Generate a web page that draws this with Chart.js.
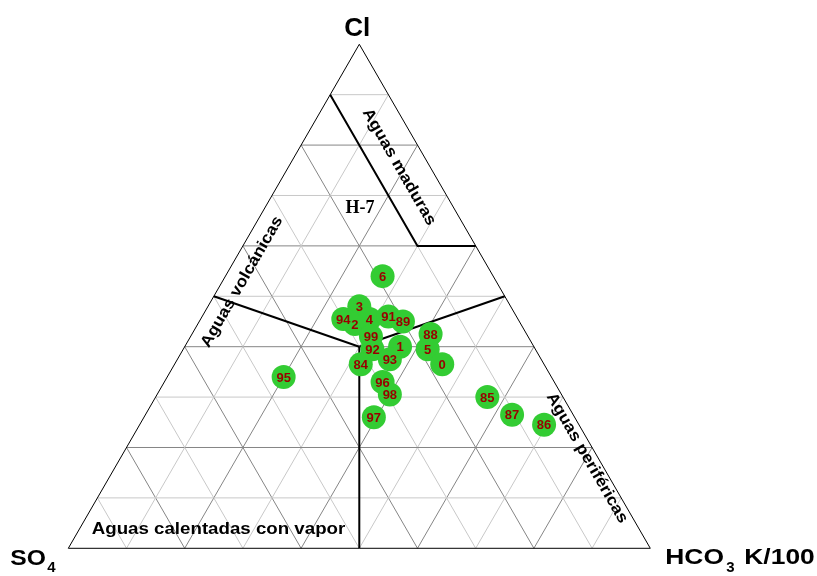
<!DOCTYPE html>
<html><head><meta charset="utf-8">
<script src="https://cdn.jsdelivr.net/npm/chart.js@4"></script>
<style>html,body{margin:0;padding:0;background:#fff;} #wrap{width:817px;height:576px;position:relative;}</style>
</head><body><div id="wrap"><canvas id="c" width="817" height="576"></canvas></div>
<script>
// ---- Data (percent of Cl, SO4, HCO3) ----
const sampleIds = ['6','3','94','2','4','91','89','99','92','1','93','84','88','5','0','95','96','98','97','85','87','86'];
const clValues   = [54, 48, 45.5, 44.5, 45.5, 46, 45, 42, 39.5, 40, 37.5, 36.5, 42.5, 39.5, 36.5, 34, 33, 30.5, 26, 30, 26.5, 24.5];
const so4Values  = [19, 26, 30, 28.5, 25.5, 22, 20, 27, 28, 23, 26, 31.5, 16.5, 18.5, 17.5, 46, 29.5, 29.5, 34.5, 13, 10.5, 6];
const hco3Values = [27, 26, 24.5, 27, 29, 32, 35, 31, 32.5, 37, 36.5, 32, 41, 42, 46, 20, 37.5, 40, 39.5, 57, 63, 69.5];

const gridSteps = [10, 20, 30, 40, 50, 60, 70, 80, 90];

// Region boundaries (percent)
const volcanicCl = [50, 40], volcanicSO4 = [50, 30], volcanicHCO3 = [0, 30];
const peripheralCl = [40, 50], peripheralSO4 = [30, 0], peripheralHCO3 = [30, 50];
const steamCl = [40, 0], steamSO4 = [30, 50], steamHCO3 = [30, 50];
const matureCl = [90, 60, 60], matureSO4 = [10, 10, 0], matureHCO3 = [0, 30, 40];

// ---- Ternary -> cartesian (data units) ----
function toXY(cl, so4, hco3) {
  const s = cl + so4 + hco3;
  const c = cl / s, h = hco3 / s;
  return { x: h + c / 2, y: c * Math.sqrt(3) / 2 };
}
function path(cls, so4s, hco3s) { return cls.map((c, i) => toXY(c, so4s[i], hco3s[i])); }

const datasets = [];
// points
datasets.push({
  label: 'samples',
  data: sampleIds.map((id, i) => toXY(clValues[i], so4Values[i], hco3Values[i])),
  backgroundColor: '#33cc33', borderWidth: 0, pointRadius: 12, pointHoverRadius: 12,
  showLine: false, order: 0
});
// region boundaries
[[volcanicCl, volcanicSO4, volcanicHCO3], [peripheralCl, peripheralSO4, peripheralHCO3],
 [steamCl, steamSO4, steamHCO3], [matureCl, matureSO4, matureHCO3]].forEach(b => {
  datasets.push({ data: path(b[0], b[1], b[2]), showLine: true, borderColor: '#000', borderWidth: 2,
    pointRadius: 0, fill: false, order: 1 });
});
// outline
datasets.push({ data: path([0, 0, 100, 0], [100, 0, 0, 100], [0, 100, 0, 0]), showLine: true,
  borderColor: '#000', borderWidth: 1, pointRadius: 0, fill: false, order: 2 });
// grid
gridSteps.forEach(k => {
  const col = (k / 10) % 2 === 0 ? '#858585' : '#c8c8c8';
  const lines = [
    path([k, k], [100 - k, 0], [0, 100 - k]),
    path([100 - k, 0], [k, k], [0, 100 - k]),
    path([100 - k, 0], [0, 100 - k], [k, k])
  ];
  lines.forEach(l => datasets.push({ data: l, showLine: true, borderColor: col, borderWidth: 1,
    pointRadius: 0, fill: false, order: 3 }));
});

function stretchText(ctx, txt, x, y, sx, align) {
  ctx.save();
  ctx.translate(x, y);
  ctx.scale(sx, 1);
  ctx.textAlign = align || 'center';
  ctx.fillText(txt, 0, 0);
  ctx.restore();
}

const labelPlugin = {
  id: 'labels',
  afterDatasetsDraw(chart) {
    const ctx = chart.ctx;
    const meta = chart.getDatasetMeta(0);
    ctx.save();
    ctx.fillStyle = '#990000';
    ctx.font = 'bold 13px "Liberation Sans", Arial, sans-serif';
    ctx.textAlign = 'center';
    ctx.textBaseline = 'middle';
    meta.data.forEach((el, i) => { ctx.fillText(sampleIds[i], el.x, el.y + 1); });
    ctx.restore();

    const xs = chart.scales.x, ys = chart.scales.y;
    const P = (cl, so4, hco3) => { const p = toXY(cl, so4, hco3); return { x: xs.getPixelForValue(p.x), y: ys.getPixelForValue(p.y) }; };
    const top = P(100, 0, 0), left = P(0, 100, 0), right = P(0, 0, 100);

    ctx.save();
    ctx.fillStyle = '#000';
    ctx.textBaseline = 'alphabetic';
    // vertex labels
    ctx.font = 'bold 26px "Liberation Sans", Arial, sans-serif';
    ctx.textAlign = 'center';
    ctx.fillText('Cl', top.x - 2, top.y - 8);
    ctx.font = 'bold 22px "Liberation Sans", Arial, sans-serif';
    stretchText(ctx, 'SO', left.x - 58, left.y + 17, 1.12, 'left');
    ctx.font = 'bold 15px "Liberation Sans", Arial, sans-serif';
    ctx.textAlign = 'left';
    ctx.fillText('4', left.x - 21, left.y + 24);
    ctx.font = 'bold 22px "Liberation Sans", Arial, sans-serif';
    stretchText(ctx, 'HCO', right.x + 15, right.y + 16, 1.2, 'left');
    ctx.font = 'bold 15px "Liberation Sans", Arial, sans-serif';
    ctx.textAlign = 'left';
    ctx.fillText('3', right.x + 76, right.y + 24);
    ctx.font = 'bold 22px "Liberation Sans", Arial, sans-serif';
    stretchText(ctx, 'K/100', right.x + 94, right.y + 16, 1.2, 'left');

    // region labels
    ctx.font = 'bold 16px "Liberation Sans", Arial, sans-serif';
    ctx.textBaseline = 'middle';
    const ang = Math.atan2(left.y - top.y, top.x - left.x); // ~60deg
    const rot = (txt, x, y, a) => { ctx.save(); ctx.translate(x, y); ctx.rotate(a); ctx.scale(1.1, 1); ctx.textAlign = 'center'; ctx.fillText(txt, 0, 0); ctx.restore(); };
    rot('Aguas maduras', 399, 167, ang);
    rot('Aguas volcánicas', 242, 282, -ang);
    rot('Aguas periféricas', 587, 458, ang);
    ctx.font = 'bold 17px "Liberation Sans", Arial, sans-serif';
    ctx.textBaseline = 'alphabetic';
    stretchText(ctx, 'Aguas calentadas con vapor', 218.5, 534, 1.1, 'center');
    ctx.font = 'bold 18px "Liberation Serif", "Times New Roman", serif';
    ctx.textAlign = 'center';
    ctx.fillText('H-7', 360, 213);
    ctx.restore();
  }
};

new Chart(document.getElementById('c'), {
  type: 'scatter',
  data: { datasets },
  options: {
    responsive: false, animation: false, events: [],
    layout: { padding: 0, autoPadding: false },
    plugins: { legend: { display: false }, tooltip: { enabled: false } },
    scales: {
      x: { type: 'linear', display: false, min: -68.3 / 582, max: (817 - 68.3) / 582 },
      y: { type: 'linear', display: false, min: -(576 - 548.3) / 582, max: 548.3 / 582 }
    }
  },
  plugins: [labelPlugin]
});
</script>
</body></html>
